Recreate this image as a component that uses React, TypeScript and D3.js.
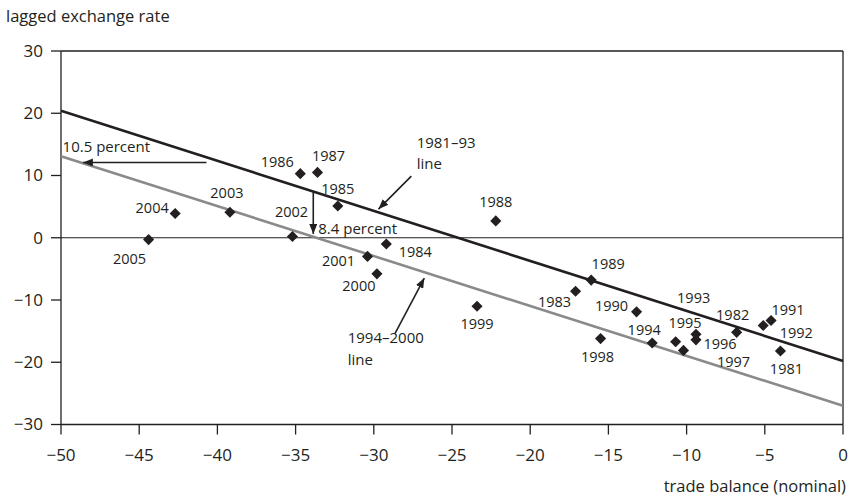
import React from "react";
import * as d3 from "d3";

// trade balance (nominal) vs lagged exchange rate, one point per year
const years = [
  1981, 1982, 1983, 1984, 1985, 1986, 1987, 1988, 1989, 1990, 1991, 1992, 1993,
  1994, 1995, 1996, 1997, 1998, 1999, 2000, 2001, 2002, 2003, 2004, 2005,
];
const tradeBalance = [
  -4.0, -6.8, -17.1, -29.2, -32.3, -34.7, -33.6, -22.2, -16.1, -13.2, -4.6, -5.1, -10.7,
  -12.2, -9.4, -9.4, -10.2, -15.5, -23.4, -29.8, -30.4, -35.2, -39.2, -42.7, -44.4,
];
const exchangeRate = [
  -18.2, -15.2, -8.6, -1.0, 5.1, 10.3, 10.5, 2.7, -6.8, -11.9, -13.3, -14.1, -16.7,
  -16.9, -15.5, -16.4, -18.1, -16.2, -11.0, -5.8, -3.0, 0.2, 4.1, 3.9, -0.3,
];

// fitted lines, value at x = -50 and x = 0
const line8193 = [20.4, -19.8];
const line9400 = [13.1, -27.0];

const xTicks = [-50, -45, -40, -35, -30, -25, -20, -15, -10, -5, 0];
const yTicks = [30, 20, 10, 0, -10, -20, -30];

// label placement around each point (px)
const labelOffset: Record<number, [number, number]> = {
  1981: [6, 18], 1982: [-4, -17], 1983: [-21, 11], 1984: [29, 8], 1985: [0, -17],
  1986: [-23, -12], 1987: [11, -16], 1988: [0, -19], 1989: [17, -16], 1990: [-25, -6],
  1991: [17, -11], 1992: [33, 7], 1993: [18, -44], 1994: [-8, -13], 1995: [-11, -11],
  1996: [24, 4], 1997: [50, 12], 1998: [-3, 18], 1999: [0, 18], 2000: [-18, 12],
  2001: [-29, 4], 2002: [-1, -25], 2003: [-3, -19], 2004: [-23, -6], 2005: [-19, 19],
};

const W = 851;
const H = 499;
const ink = "#231f20";
const font = "'Open Sans', sans-serif";

export default function App() {
  const x = d3.scaleLinear().domain([-50, 0]).range([61, 843]);
  const y = d3.scaleLinear().domain([-30, 30]).range([424.5, 51]);
  const diamond = d3.symbol(d3.symbolSquare, 62)() as string;
  const fmt = (v: number) => (v < 0 ? "\u2212" + Math.abs(v) : String(v));

  const lineGen = d3
    .line<[number, number]>()
    .x((d) => x(d[0]))
    .y((d) => y(d[1]));
  const black = lineGen([[-50, line8193[0]], [0, line8193[1]]]) as string;
  const gray = lineGen([[-50, line9400[0]], [0, line9400[1]]]) as string;

  return (
    <svg
      width={W}
      height={H}
      style={{ position: "absolute", left: 0, top: 0, background: "#fff" }}
      fontFamily={font}
    >
      <defs>
        <marker id="ah" viewBox="0 0 10 8" refX="10" refY="4" markerWidth="10" markerHeight="8" markerUnits="userSpaceOnUse" orient="auto">
          <path d="M0,0L10,4L0,8Z" fill={ink} />
        </marker>
      </defs>

      <text x={6} y={22} fontSize={16.5} fill={ink}>lagged exchange rate</text>
      <text x={846} y={492} fontSize={16.5} fill={ink} textAnchor="end">trade balance (nominal)</text>

      {/* frame */}
      <line x1={x(-50)} x2={x(0)} y1={y(30)} y2={y(30)} stroke={ink} strokeWidth={1.3} />
      <line x1={x(0)} x2={x(0)} y1={y(30)} y2={y(-30)} stroke={ink} strokeWidth={1.3} />
      <line x1={x(-50)} x2={x(0)} y1={y(0)} y2={y(0)} stroke={ink} strokeWidth={1} />

      {/* y axis */}
      <line x1={x(-50)} x2={x(-50)} y1={y(30)} y2={y(-30)} stroke={ink} strokeWidth={1.3} />
      {yTicks.map((t) => (
        <g key={t}>
          <line x1={x(-50) - 10} x2={x(-50)} y1={y(t)} y2={y(t)} stroke={ink} strokeWidth={1.3} />
          <text x={43} y={y(t)} dy="0.35em" fontSize={17} textAnchor="end" fill={ink}>
            {fmt(t)}
          </text>
        </g>
      ))}

      {/* x axis */}
      <line x1={x(-50)} x2={x(0)} y1={y(-30)} y2={y(-30)} stroke={ink} strokeWidth={1.3} />
      {xTicks.map((t) => (
        <g key={t}>
          <line x1={x(t)} x2={x(t)} y1={y(-30)} y2={y(-30) + 10} stroke={ink} strokeWidth={1.3} />
          <text x={x(t)} y={455} dy="0.35em" fontSize={17} textAnchor="middle" fill={ink}>
            {fmt(t)}
          </text>
        </g>
      ))}

      {/* regression lines */}
      <path d={gray} stroke="#8a8a8a" strokeWidth={2.6} fill="none" />
      <path d={black} stroke={ink} strokeWidth={2.6} fill="none" />

      {/* annotations */}
      <line x1={x(-40.7)} x2={x(-48.6)} y1={y(12.1)} y2={y(12.1)} stroke={ink} strokeWidth={1.6} markerEnd="url(#ah)" />
      <text x={x(-49.9)} y={y(14.65)} dy="0.35em" fontSize={15} fill={ink}>10.5 percent</text>
      <line x1={x(-33.87)} x2={x(-33.87)} y1={y(7.4)} y2={y(0.6)} stroke={ink} strokeWidth={1.6} markerEnd="url(#ah)" />
      <text x={x(-33.55)} y={y(1.5)} dy="0.35em" fontSize={15} fill={ink}>8.4 percent</text>
      <line x1={x(-27.6)} x2={x(-29.7)} y1={y(9.9)} y2={y(4.6)} stroke={ink} strokeWidth={1.6} markerEnd="url(#ah)" />
      <text x={x(-27.26)} y={y(15.25)} dy="0.35em" fontSize={15} fill={ink}>1981–93</text>
      <text x={x(-27.26)} y={y(11.93)} dy="0.35em" fontSize={15} fill={ink}>line</text>
      <line x1={x(-28.64)} x2={x(-26.77)} y1={y(-15.36)} y2={y(-6.47)} stroke={ink} strokeWidth={1.6} markerEnd="url(#ah)" />
      <text x={x(-31.67)} y={y(-16.05)} dy="0.35em" fontSize={15} fill={ink}>1994–2000</text>
      <text x={x(-31.67)} y={y(-19.6)} dy="0.35em" fontSize={15} fill={ink}>line</text>

      {/* points */}
      {years.map((yr, i) => (
        <path
          key={yr}
          d={diamond}
          transform={`translate(${x(tradeBalance[i])},${y(exchangeRate[i])}) rotate(45)`}
          fill={ink}
        />
      ))}
      {years.map((yr, i) => (
        <text
          key={"l" + yr}
          x={x(tradeBalance[i]) + labelOffset[yr][0]}
          y={y(exchangeRate[i]) + labelOffset[yr][1]}
          dy="0.35em"
          fontSize={14.5}
          textAnchor="middle"
          fill={ink}
        >
          {yr}
        </text>
      ))}
    </svg>
  );
}
